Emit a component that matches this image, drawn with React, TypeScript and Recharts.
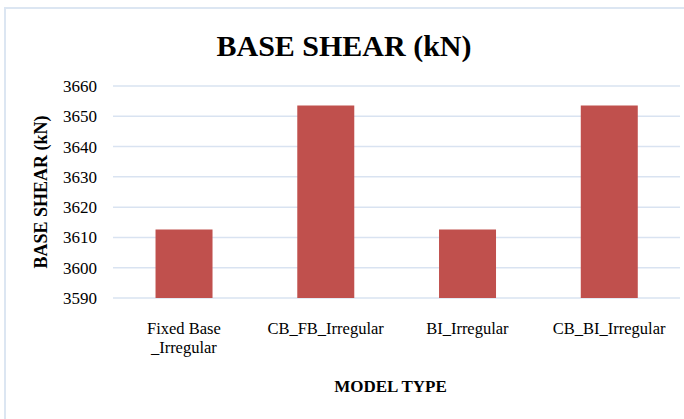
import { BarChart, Bar, XAxis, YAxis, CartesianGrid, Label } from "recharts";

const categories = ["Fixed Base\n_Irregular", "CB_FB_Irregular", "BI_Irregular", "CB_BI_Irregular"];
const baseShear = [3612.6, 3653.6, 3612.6, 3653.6];
const yTicks = [3590, 3600, 3610, 3620, 3630, 3640, 3650, 3660];

const FONT = '"Liberation Serif", "Times New Roman", serif';

const data = categories.map((name, i) => ({ name, value: baseShear[i] }));

function CategoryTick(props: any) {
  const { x, y, payload } = props;
  const lines = String(payload.value).split("\n");
  return (
    <text x={x} y={y} textAnchor="middle" fontFamily={FONT} fontSize={16.5} fill="#000">
      {lines.map((line, i) => (
        <tspan key={i} x={x} dy={i === 0 ? 28 : 19}>
          {line}
        </tspan>
      ))}
    </text>
  );
}

export default function App() {
  return (
    <div style={{ position: "absolute", left: 0, top: 0, width: 684, height: 419, background: "#fff", overflow: "hidden" }}>
      {/* chart frame: only left and top edges are visible in the crop */}
      <div
        style={{
          position: "absolute",
          left: 4,
          top: 7,
          right: -10,
          bottom: -10,
          borderLeft: "2px solid #dce6f2",
          borderTop: "2px solid #dce6f2",
        }}
      />
      <div
        style={{
          position: "absolute",
          left: 4,
          width: 680,
          top: 26,
          textAlign: "center",
          fontFamily: FONT,
          fontWeight: "bold",
          fontSize: 30,
          lineHeight: "40px",
          color: "#000",
        }}
      >
        BASE SHEAR (kN)
      </div>
      <div style={{ position: "absolute", left: 0, top: 0 }}>
        <BarChart width={684} height={419} data={data} margin={{ top: 86, right: 4, bottom: 41, left: 0 }} barCategoryGap="30%">
          <CartesianGrid vertical={false} stroke="#d9e3f1" strokeWidth={1.5} />
          <XAxis
            dataKey="name"
            height={80}
            axisLine={false}
            tickLine={false}
            interval={0}
            tick={<CategoryTick />}
          >
            <Label
              content={(p: any) => {
                const vb = p.viewBox;
                return (
                  <text
                    x={vb.x + vb.width / 2 - 6}
                    y={392}
                    textAnchor="middle"
                    fontFamily={FONT}
                    fontWeight="bold"
                    fontSize={17}
                    fill="#000"
                  >
                    MODEL TYPE
                  </text>
                );
              }}
            />
          </XAxis>
          <YAxis
            width={113}
            domain={[3590, 3660]}
            ticks={yTicks}
            interval={0}
            axisLine={false}
            tickLine={false}
            tickMargin={10}
            tick={{ fontFamily: FONT, fontSize: 17, fill: "#000" }}
          >
            <Label
              content={(p: any) => {
                const vb = p.viewBox;
                const cy = vb.y + vb.height / 2;
                return (
                  <text
                    x={41}
                    y={cy}
                    transform={`rotate(-90, 41, ${cy})`}
                    textAnchor="middle"
                    dominantBaseline="central"
                    fontFamily={FONT}
                    fontWeight="bold"
                    fontSize={18}
                    fill="#000"
                  >
                    BASE SHEAR (kN)
                  </text>
                );
              }}
            />
          </YAxis>
          <Bar dataKey="value" fill="#c0504d" isAnimationActive={false} />
        </BarChart>
      </div>
    </div>
  );
}
